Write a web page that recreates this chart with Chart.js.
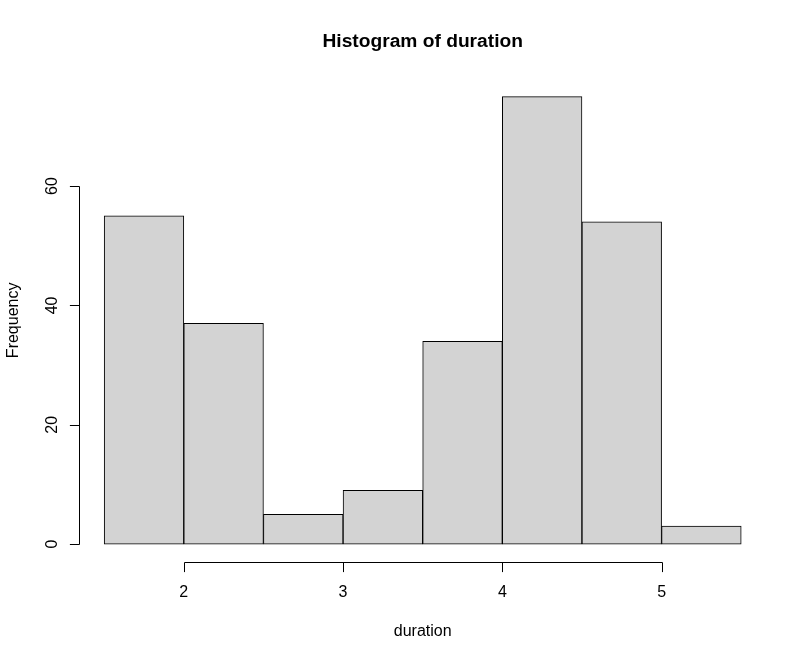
<!DOCTYPE html>
<html>
<head>
<meta charset="utf-8">
<script src="https://cdn.jsdelivr.net/npm/chart.js@4"></script>
<style>
  body { margin: 0; background: #fff; }
  #wrap { width: 807px; height: 660px; }
</style>
</head>
<body>
<div id="wrap"><canvas id="hist"></canvas></div>
<script>
/* datos del histograma */
const binStarts = [1.5, 2, 2.5, 3, 3.5, 4, 4.5, 5];
const binWidth = 0.5;
const counts = [55, 37, 5, 9, 34, 75, 54, 3];
const xTicks = [2, 3, 4, 5];
const yTicks = [0, 20, 40, 60];

const mainTitle = 'Histogram of duration';
const xLabel = 'duration';
const yLabel = 'Frequency';

const FONT = '"Liberation Sans", Arial, sans-serif';

// ejes al estilo R, dibujados con las escalas de Chart.js
const rAxes = {
    id: 'rAxes',
    afterDraw(chart) {
        const ctx = chart.ctx;
        const xs = chart.scales.x;
        const ys = chart.scales.y;
        const area = chart.chartArea;
        const px = (v) => Math.round(v) + 0.5;

        ctx.save();
        ctx.strokeStyle = '#000';
        ctx.fillStyle = '#000';
        ctx.lineWidth = 1;

        // eje x
        const yAxis = px(area.bottom);
        ctx.beginPath();
        ctx.moveTo(px(xs.getPixelForValue(xTicks[0])), yAxis);
        ctx.lineTo(px(xs.getPixelForValue(xTicks[xTicks.length - 1])), yAxis);
        xTicks.forEach((t) => {
            const x = px(xs.getPixelForValue(t));
            ctx.moveTo(x, yAxis);
            ctx.lineTo(x, yAxis + 9.6);
        });
        ctx.stroke();

        ctx.font = '16px ' + FONT;
        ctx.textAlign = 'center';
        ctx.textBaseline = 'alphabetic';
        xTicks.forEach((t) => {
            ctx.fillText(String(t), xs.getPixelForValue(t), 597);
        });
        ctx.fillText(xLabel, (area.left + area.right) / 2, 636);

        // eje y
        const xAxis = px(area.left);
        ctx.beginPath();
        ctx.moveTo(xAxis, px(ys.getPixelForValue(yTicks[0])));
        ctx.lineTo(xAxis, px(ys.getPixelForValue(yTicks[yTicks.length - 1])));
        yTicks.forEach((t) => {
            const y = px(ys.getPixelForValue(t));
            ctx.moveTo(xAxis, y);
            ctx.lineTo(xAxis - 9.6, y);
        });
        ctx.stroke();

        yTicks.forEach((t) => {
            ctx.save();
            ctx.translate(57, ys.getPixelForValue(t));
            ctx.rotate(-Math.PI / 2);
            ctx.fillText(String(t), 0, 0);
            ctx.restore();
        });
        ctx.save();
        ctx.translate(18, (area.top + area.bottom) / 2);
        ctx.rotate(-Math.PI / 2);
        ctx.fillText(yLabel, 0, 0);
        ctx.restore();

        // titulo
        ctx.font = 'bold 19.2px ' + FONT;
        ctx.fillText(mainTitle, (area.left + area.right) / 2, 47);

        ctx.restore();
    }
};

const config = {
    type: 'bar',
    data: {
        datasets: [{
            data: binStarts.map((s, i) => ({ x: s + binWidth / 2, y: counts[i] })),
            backgroundColor: '#d3d3d3',
            borderColor: '#000000',
            borderWidth: 1,
            borderSkipped: false,
            barPercentage: 1,
            categoryPercentage: 1
        }]
    },
    options: {
        responsive: true,
        maintainAspectRatio: false,
        animation: false,
        layout: {
            padding: { left: 78.7, top: 78.7, right: 40.3, bottom: 98 }
        },
        scales: {
            x: { type: 'linear', offset: false, min: 1.34, max: 5.66, display: false },
            y: { min: -3, max: 78, display: false }
        },
        plugins: {
            legend: { display: false },
            tooltip: { enabled: false }
        }
    },
    plugins: [rAxes]
};

new Chart(document.getElementById('hist'), config);
</script>
</body>
</html>
